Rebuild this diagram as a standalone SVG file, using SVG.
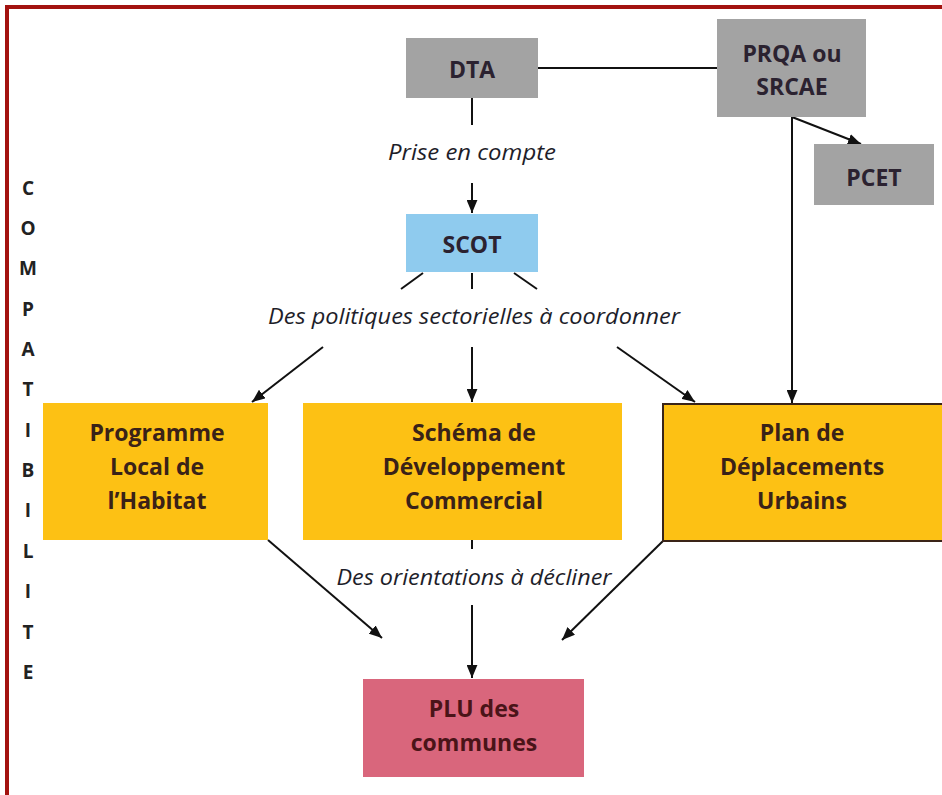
<svg xmlns="http://www.w3.org/2000/svg" width="942" height="795" viewBox="0 0 942 795">
<defs>
<marker id="a" viewBox="0 0 12 10" refX="12" refY="5" markerWidth="13" markerHeight="11" orient="auto" markerUnits="userSpaceOnUse">
<path d="M0,0 L12,5 L0,10 Z" fill="#111"/>
</marker>
<style>
.n{font-family:"Open Sans",Lato,"Liberation Sans",sans-serif;font-weight:bold;font-size:23px;fill:#2b2230;text-anchor:middle;dominant-baseline:central}
.y{fill:#3a2218}
.lbl{font-family:"Open Sans",Lato,"Liberation Sans",sans-serif;font-style:italic;font-size:21px;fill:#1e1e2a;text-anchor:middle;dominant-baseline:central}
.side{font-family:"Open Sans",Lato,"Liberation Sans",sans-serif;font-weight:bold;font-size:19px;fill:#222;text-anchor:middle;dominant-baseline:central}
.c{stroke:#111;stroke-width:2;fill:none}
.gray{fill:#a3a3a3}
.yel{fill:#fdc114}
</style>
</defs>
<rect x="0" y="0" width="942" height="795" fill="#ffffff"/>
<g id="frame">
<line x1="5" y1="7" x2="942" y2="7" stroke="#a3120f" stroke-width="4"/>
<line x1="7" y1="5" x2="7" y2="795" stroke="#a3120f" stroke-width="4"/>
</g>
<g id="side-label">
<text class="side" x="28" y="188">C</text>
<text class="side" x="28" y="228">O</text>
<text class="side" x="28" y="268">M</text>
<text class="side" x="28" y="309">P</text>
<text class="side" x="28" y="349">A</text>
<text class="side" x="28" y="389">T</text>
<text class="side" x="28" y="430">I</text>
<text class="side" x="28" y="470">B</text>
<text class="side" x="28" y="510">I</text>
<text class="side" x="28" y="551">L</text>
<text class="side" x="28" y="591">I</text>
<text class="side" x="28" y="632">T</text>
<text class="side" x="28" y="672">E</text>
</g>
<g id="connectors">
<line class="c" x1="538" y1="68" x2="717" y2="68"/>
<line class="c" x1="472" y1="98" x2="472" y2="125"/>
<line class="c" x1="472" y1="183" x2="472" y2="213" marker-end="url(#a)"/>
<line class="c" x1="792" y1="117" x2="861" y2="144" marker-end="url(#a)"/>
<line class="c" x1="792" y1="117" x2="792" y2="403" marker-end="url(#a)"/>
<line class="c" x1="423" y1="273" x2="401" y2="289"/>
<line class="c" x1="472" y1="273" x2="472" y2="289"/>
<line class="c" x1="514" y1="273" x2="537" y2="289"/>
<line class="c" x1="323" y1="347" x2="252" y2="402" marker-end="url(#a)"/>
<line class="c" x1="472" y1="347" x2="472" y2="402" marker-end="url(#a)"/>
<line class="c" x1="617" y1="347" x2="695" y2="402" marker-end="url(#a)"/>
<line class="c" x1="472" y1="540" x2="472" y2="549"/>
<line class="c" x1="268" y1="540" x2="382" y2="638" marker-end="url(#a)"/>
<line class="c" x1="663" y1="541" x2="562" y2="640" marker-end="url(#a)"/>
<line class="c" x1="472" y1="605" x2="472" y2="678" marker-end="url(#a)"/>
</g>
<g id="labels">
<text class="lbl" x="472" y="152" textLength="168" lengthAdjust="spacingAndGlyphs">Prise en compte</text>
<text class="lbl" x="474" y="316" textLength="412" lengthAdjust="spacingAndGlyphs">Des politiques sectorielles à coordonner</text>
<text class="lbl" x="474" y="577" textLength="275" lengthAdjust="spacingAndGlyphs">Des orientations à décliner</text>
</g>
<g id="DTA">
<rect class="gray" x="406" y="38" width="132" height="60"/>
<text class="n" x="472" y="69">DTA</text>
</g>
<g id="PRQA">
<rect class="gray" x="717" y="19" width="149" height="98"/>
<text class="n" x="792" y="53">PRQA ou</text>
<text class="n" x="792" y="86">SRCAE</text>
</g>
<g id="PCET">
<rect class="gray" x="814" y="144" width="120" height="61"/>
<text class="n" x="874" y="177">PCET</text>
</g>
<g id="SCOT">
<rect x="406" y="214" width="132" height="58" fill="#8fcbee"/>
<text class="n" x="472" y="244">SCOT</text>
</g>
<g id="PLH">
<rect class="yel" x="43" y="403" width="225" height="137"/>
<text class="n y" x="157" y="432">Programme</text>
<text class="n y" x="157" y="466">Local de</text>
<text class="n y" x="157" y="500">l’Habitat</text>
</g>
<g id="SDC">
<rect class="yel" x="303" y="403" width="319" height="137"/>
<text class="n y" x="474" y="432">Schéma de</text>
<text class="n y" x="474" y="466">Développement</text>
<text class="n y" x="474" y="500">Commercial</text>
</g>
<g id="PDU">
<rect class="yel" x="663" y="404" width="282" height="137" stroke="#3a2418" stroke-width="2"/>
<text class="n y" x="802" y="432">Plan de</text>
<text class="n y" x="802" y="466">Déplacements</text>
<text class="n y" x="802" y="500">Urbains</text>
</g>
<g id="PLU">
<rect x="363" y="679" width="221" height="98" fill="#d9667c"/>
<text class="n" x="474" y="708" style="fill:#4a1418">PLU des</text>
<text class="n" x="474" y="742" style="fill:#4a1418">communes</text>
</g>
</svg>
